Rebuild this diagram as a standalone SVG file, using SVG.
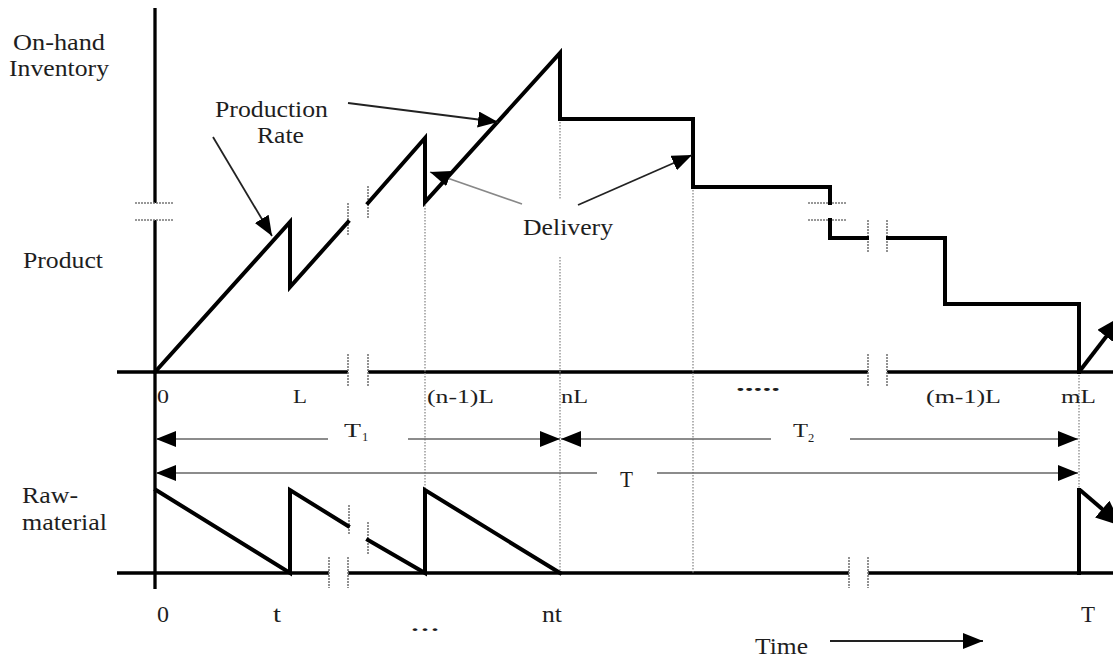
<svg xmlns="http://www.w3.org/2000/svg" width="1113" height="659" viewBox="0 0 1113 659">
<defs>
<style>
.t{font-family:"Liberation Serif","Times New Roman",serif;fill:#1e1e1e}
.big{font-size:22.5px}
.sm{font-size:18.5px}
.sub{font-size:12.5px}
.ax{stroke:#000;stroke-width:3.3;fill:none}
.cv{stroke:#000;stroke-width:4;fill:none;stroke-linejoin:miter;stroke-linecap:square}
.guide{stroke:#8a8a8a;stroke-width:1.3;stroke-dasharray:1.5 1.5;fill:none}
.brk{stroke:#777;stroke-width:1.6;stroke-dasharray:2 1;fill:none}
.dim{stroke:#666;stroke-width:1.6;fill:none}
.ptr{stroke:#222;stroke-width:1.8;fill:none}
.ptrg{stroke:#888;stroke-width:1.6;fill:none}
.thick{stroke:#000;stroke-width:4;fill:none}
</style>
<marker id="ah" markerUnits="userSpaceOnUse" markerWidth="21" markerHeight="17" refX="20" refY="8" orient="auto-start-reverse" viewBox="0 0 21 17">
<path d="M0,0 L20,8 L0,16 z" fill="#000"/>
</marker>
<marker id="ahb" markerUnits="userSpaceOnUse" markerWidth="30" markerHeight="24" refX="26" refY="11" orient="auto" viewBox="0 0 30 24">
<path d="M0,0 L26,11 L0,22 z" fill="#000"/>
</marker>
</defs>
<rect width="1113" height="659" fill="#fff"/>

<g id="axes">
<path class="ax" d="M155,8 V203 M155,220 V589"/>
<path class="ax" d="M117,372 H348 M368,372 H868 M887,372 H1113"/>
<path class="ax" d="M117,573 H329 M348,573 H849 M868,573 H1113"/>
</g>

<g id="breaks">
<path class="brk" d="M135,203 H173 M135,220 H173"/>
<path class="brk" d="M348,354 V387 M368,354 V387 M868,354 V387 M887,354 V387"/>
<path class="brk" d="M329,557 V588 M348,557 V588 M849,557 V588 M868,557 V588"/>
<path class="brk" d="M348,203 V235 M368,186 V218"/>
<path class="brk" d="M808,203 H847 M808,220 H847"/>
<path class="brk" d="M868,220 V252 M887,220 V252"/>
<path class="brk" d="M349,505 V535 M368,522 V555"/>
</g>

<g id="guides">
<path class="guide" d="M425,202 V573"/>
<path class="guide" d="M560,119 V200 M560,257 V573"/>
<path class="guide" d="M693,187 V573"/>
<path class="guide" d="M1079,372 V490"/>
</g>

<g id="product-curve">
<path class="cv" d="M155,372 L290,222 L290,287 L348,222 M368,203 L425,138 L425,202 L560,53 L560,119 L693,119 L693,187 L830,187 L830,203 M830,220 L830,238 L867,238 M888,238 L945,238 L945,304 L1079,304 L1079,372"/>
</g>

<g id="raw-curve">
<path class="cv" d="M156,490 L290,573 L290,490 L348,526 M368,540 L425,573 L425,490 L560,573"/>
<path class="cv" d="M1079,573 L1079,490"/>
</g>

<g id="connectors">
<path class="thick" d="M1079,372 L1122,316" marker-end="url(#ahb)"/>
<path class="thick" d="M1080,490 L1122,526" marker-end="url(#ahb)"/>
<path class="ptr" d="M213,137 L272,236" marker-end="url(#ah)"/>
<path class="ptr" d="M348,103 L498,122" marker-end="url(#ah)"/>
<path class="ptrg" d="M522,204 L430,172" marker-end="url(#ah)"/>
<path class="ptr" d="M578,205 L692,155" marker-end="url(#ah)"/>
<path class="dim" d="M328,439 H156" marker-end="url(#ah)"/>
<path class="dim" d="M408,439 H560" marker-end="url(#ah)"/>
<path class="dim" d="M771,439 H561" marker-end="url(#ah)"/>
<path class="dim" d="M850,439 H1078" marker-end="url(#ah)"/>
<path class="dim" d="M597,473 H156" marker-end="url(#ah)"/>
<path class="dim" d="M657,473 H1078" marker-end="url(#ah)"/>
<path class="ptr" d="M830,641 H983" marker-end="url(#ah)"/>
</g>

<g id="labels">
<text class="t big" x="13" y="50" textLength="92" lengthAdjust="spacingAndGlyphs">On-hand</text>
<text class="t big" x="9" y="76" textLength="100" lengthAdjust="spacingAndGlyphs">Inventory</text>
<text class="t big" x="23" y="268" textLength="80" lengthAdjust="spacingAndGlyphs">Product</text>
<text class="t big" x="22" y="503" textLength="56" lengthAdjust="spacingAndGlyphs">Raw-</text>
<text class="t big" x="22" y="530" textLength="85" lengthAdjust="spacingAndGlyphs">material</text>
<text class="t big" x="215" y="117" textLength="113" lengthAdjust="spacingAndGlyphs">Production</text>
<text class="t big" x="257" y="143" textLength="47" lengthAdjust="spacingAndGlyphs">Rate</text>
<text class="t big" x="523" y="235" textLength="90" lengthAdjust="spacingAndGlyphs">Delivery</text>
<text class="t sm" x="157" y="403" textLength="12" lengthAdjust="spacingAndGlyphs">0</text>
<text class="t sm" x="293" y="403" textLength="14" lengthAdjust="spacingAndGlyphs">L</text>
<text class="t sm" x="427" y="403" textLength="67" lengthAdjust="spacingAndGlyphs">(n-1)L</text>
<text class="t sm" x="561" y="403" textLength="27" lengthAdjust="spacingAndGlyphs">nL</text>
<text class="t sm" x="736" y="391" textLength="44" lengthAdjust="spacingAndGlyphs" font-weight="bold">.....</text>
<text class="t sm" x="926" y="403" textLength="75" lengthAdjust="spacingAndGlyphs">(m-1)L</text>
<text class="t sm" x="1061" y="403" textLength="35" lengthAdjust="spacingAndGlyphs">mL</text>
<text class="t sm" x="344" y="437" textLength="17" lengthAdjust="spacingAndGlyphs">T</text>
<text class="t sub" x="362" y="441">1</text>
<text class="t sm" x="793" y="437" textLength="15" lengthAdjust="spacingAndGlyphs">T</text>
<text class="t sub" x="808" y="442">2</text>
<text class="t big" x="620" y="487" textLength="13" lengthAdjust="spacingAndGlyphs">T</text>
<text class="t big" x="157" y="622" textLength="12" lengthAdjust="spacingAndGlyphs">0</text>
<text class="t big" x="273" y="622" textLength="8" lengthAdjust="spacingAndGlyphs">t</text>
<text class="t big" x="542" y="622" textLength="20" lengthAdjust="spacingAndGlyphs">nt</text>
<text class="t big" x="1081" y="622" textLength="14" lengthAdjust="spacingAndGlyphs">T</text>
<text class="t big" x="410" y="631" textLength="30" lengthAdjust="spacingAndGlyphs">...</text>
<text class="t big" x="755" y="654" textLength="53" lengthAdjust="spacingAndGlyphs">Time</text>
</g>
</svg>
